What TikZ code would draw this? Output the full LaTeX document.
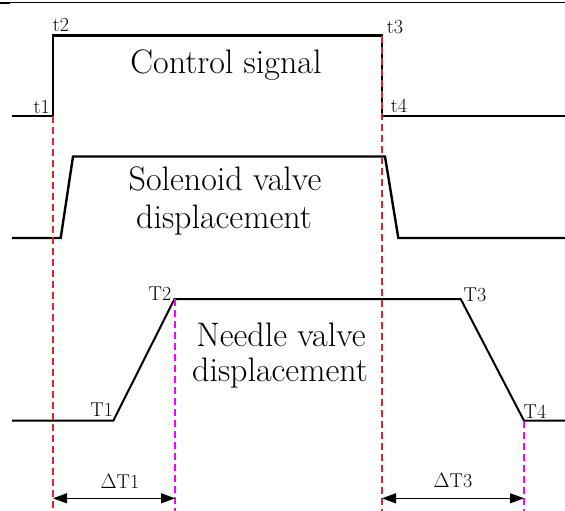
\documentclass[tikz,border=0pt]{standalone}
\usepackage{fontspec}
\usetikzlibrary{arrows.meta}
\definecolor{guidered}{RGB}{214,40,40}
\definecolor{guidemag}{RGB}{255,0,255}
\tikzset{
  sig/.style={line width=2.4pt, line join=miter, black},
  needlesig/.style={line width=2pt, line join=miter, black},
  redguide/.style={guidered, line width=1.2pt, dash pattern=on 7pt off 4pt},
  magguide/.style={guidemag, line width=1.2pt, dash pattern=on 7pt off 4pt},
  dimarrow/.style={line width=1.2pt, {Triangle[length=14pt,width=10pt]}-{Triangle[length=14pt,width=10pt]}},
  small/.style={font=\fontsize{20}{24}\selectfont, inner sep=0pt},
  big/.style={font=\fontsize{34}{40}\selectfont, inner sep=0pt, anchor=base},
}
\begin{document}
\begin{tikzpicture}[x=1pt,y=-1pt]
\useasboundingbox (0,0) rectangle (565,511);
% top border line
\draw[line width=0.8pt] (0,2.6) -- (565,2.6);
\draw[line width=2pt] (0,2.6) -- (10,2.6);

% control signal
\coordinate (c0) at (12,116);
\coordinate (c1) at (53,116);
\coordinate (c2) at (53,35.5);
\coordinate (c3) at (382,35.5);
\coordinate (c4) at (382,116);
\coordinate (c5) at (565,116);
\draw[sig] (c0) -- (c1) -- (c2) -- (c3) -- (c4) -- (c5);

% solenoid valve
\coordinate (s0) at (12,238);
\coordinate (s1) at (60.7,238);
\coordinate (s2) at (73,156.5);
\coordinate (s3) at (385,156.5);
\coordinate (s4) at (398.3,238);
\coordinate (s5) at (565,238);
\draw[sig] (s0) -- (s1) -- (s2) -- (s3) -- (s4) -- (s5);

% needle valve
\coordinate (n0) at (12,420.7);
\coordinate (n1) at (113.3,420.7);
\coordinate (n2) at (174.5,299);
\coordinate (n3) at (460.7,299);
\coordinate (n4) at (524,420.7);
\coordinate (n5) at (565,420.7);
\draw[needlesig] (n0) -- (n1) -- (n2) -- (n3) -- (n4) -- (n5);

% guide lines
\coordinate (rb1) at (53,511);
\coordinate (rb2) at (382,511);
\coordinate (rt2) at (382,36);
\coordinate (mt1) at (175,299);
\coordinate (mb1) at (175,511);
\coordinate (mt2) at (524,420.7);
\coordinate (mb2) at (524,511);
\draw[redguide] (c1) -- (rb1);
\draw[redguide] (rt2) -- (rb2);
\draw[magguide] (mt1) -- (mb1);
\draw[magguide] (mt2) -- (mb2);

% dimension arrows
\coordinate (a1l) at (53,498.3);
\coordinate (a1r) at (175,498.3);
\coordinate (a3l) at (382,498.3);
\coordinate (a3r) at (524,498.3);
\draw[dimarrow] (a1l) -- (a1r);
\draw[dimarrow] (a3l) -- (a3r);

% small labels
\node[small] (lt1) at (41.7,106.5) {t1};
\node[small] (lt2) at (61,25) {t2};
\node[small] (lt3) at (395,27.5) {t3};
\node[small] (lt4) at (399,106) {t4};
\node[small] (lT1) at (101.7,410) {T1};
\node[small] (lT2) at (160,294) {T2};
\node[small] (lT3) at (475,295) {T3};
\node[small] (lT4) at (535,411.5) {T4};
\node[small] (ld1) at (120,481.5) {$\Delta$T1};
\node[small] (ld3) at (453,481) {$\Delta$T3};

% main labels
\node[big] (ctrl) at (226,73.3) {Control signal};
\node[big] (sol1) at (225,190) {Solenoid valve};
\node[big] (sol2) at (224,228) {displacement};
\node[big] (ndl1) at (281,346.7) {Needle valve};
\node[big] (ndl2) at (280,381.7) {displacement};
\end{tikzpicture}
\end{document}
